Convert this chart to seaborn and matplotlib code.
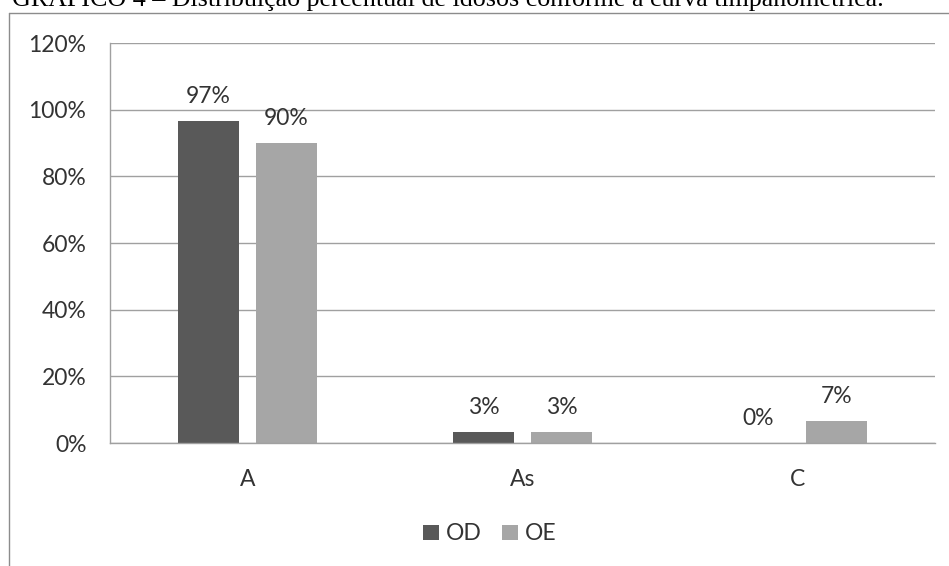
import matplotlib
matplotlib.use("Agg")
import matplotlib.pyplot as plt
from matplotlib.lines import Line2D
from matplotlib.ticker import FuncFormatter, MultipleLocator
import pandas as pd
import seaborn as sns

# Tympanometric curve types and share of elderly per ear (%)
categories = ["A", "As", "C"]
ears = ["OD", "OE"]
od_values = [96.7, 3.3, 0.0]
oe_values = [90.0, 3.3, 6.7]
ear_colors = ["#595959", "#a6a6a6"]
title = "GRÁFICO 4 – Distribuição percentual de idosos conforme a curva timpanométrica."

df = pd.DataFrame({
    "curva": categories * 2,
    "orelha": [ears[0]] * len(categories) + [ears[1]] * len(categories),
    "valor": od_values + oe_values,
})

sns.set_theme(style="white")
plt.rcParams["font.family"] = ["Lato", "DejaVu Sans"]

W, H = 949, 566
fig = plt.figure(figsize=(W / 100, H / 100), dpi=100)
ax = fig.add_axes([110 / W, 1 - 443 / H, 825 / W, 400 / H])

sns.barplot(
    data=df, x="curva", y="valor", hue="orelha", order=categories,
    hue_order=ears, palette=ear_colors, width=0.567, gap=0.2176,
    saturation=1, edgecolor="none", linewidth=0, ax=ax, legend=True,
)

text_color = "#333333"
grid_color = "#a0a0a0"

ax.set_xlim(-0.5, 2.5)
ax.set_ylim(0, 120)
ax.yaxis.set_major_locator(MultipleLocator(20))
ax.yaxis.set_major_formatter(FuncFormatter(lambda v, _: f"{v:.0f}%"))
ax.grid(axis="y", color=grid_color, linewidth=1.0)
ax.set_axisbelow(True)
ax.set_xlabel("")
ax.set_ylabel("")
for side in ["top", "right"]:
    ax.spines[side].set_visible(False)
for side in ["left", "bottom"]:
    ax.spines[side].set_color(grid_color)
    ax.spines[side].set_linewidth(1.0)

ax.tick_params(axis="y", length=0, pad=17, labelsize=16.5, labelcolor=text_color)
ax.tick_params(axis="x", length=0, pad=19, labelsize=16.5, labelcolor=text_color)

for container in ax.containers:
    ax.bar_label(container, labels=[f"{v:.0f}%" for v in container.datavalues],
                 padding=10, fontsize=16.5, color=text_color)

# Legend below the plot area
handles, labels = ax.get_legend_handles_labels()
ax.get_legend().remove()
fig.legend(handles, labels, loc="center", bbox_to_anchor=(490 / W, 1 - 534 / H),
           ncol=2, frameon=False, fontsize=16.5, handlelength=0.66,
           handleheight=0.66, handletextpad=0.32, columnspacing=0.9,
           labelcolor=text_color)

# Chart frame
frame_color = "#8c8c8c"
fig.add_artist(Line2D([9 / W, 1], [1 - 13 / H, 1 - 13 / H], color=frame_color,
                      linewidth=1.0, transform=fig.transFigure))
fig.add_artist(Line2D([9 / W, 9 / W], [0, 1 - 13 / H], color=frame_color,
                      linewidth=1.0, transform=fig.transFigure))

# Caption above the chart
fig.text(12 / W, 1 - 6 / H, title, family=["Liberation Serif", "DejaVu Serif"],
         fontsize=18.7, color="black", ha="left", va="baseline")

fig.savefig("out.png", dpi=100)
